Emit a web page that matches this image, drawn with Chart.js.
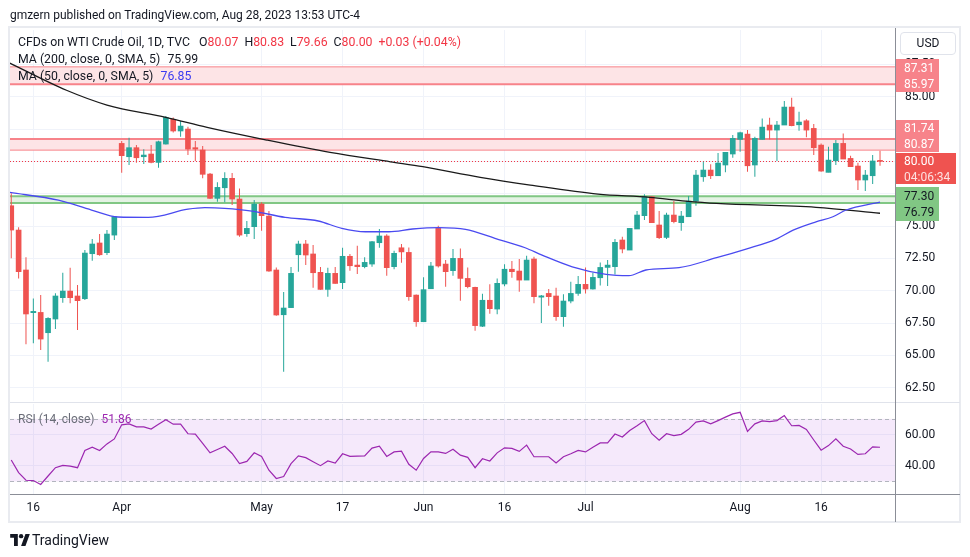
<!DOCTYPE html>
<html>
<head>
<meta charset="utf-8">
<script src="https://cdn.jsdelivr.net/npm/chart.js@4.4.0/dist/chart.umd.min.js"></script>
<style>
    body { margin: 0; background: #fff; font-family: Roboto, "Noto Sans", sans-serif; color: #131722; }
    #wrap { position: relative; width: 970px; height: 557px; overflow: hidden; background: #fff; }
    canvas { position: absolute; left: 0; top: 0; }
    .abs { position: absolute; white-space: nowrap; }
    .red { color: #f23645; }
    .frame { left: 8px; top: 26px; width: 953px; height: 497px; border: 2px solid #e9ebf0; box-sizing: border-box; }
    .legend { left: 18px; font-size: 12.3px; line-height: 16px; }
    .legend b { font-weight: normal; margin-left: 6px; }
    .pbox { left: 896px; width: 43px; font-size: 12px; line-height: 16px; padding-left: 8px; box-sizing: border-box; color: #fff; }
</style>
</head>
<body>
<div id="wrap">
    <div class="abs frame"></div>
    <canvas id="priceChart" width="970" height="557"></canvas>
    <canvas id="rsiChart" width="970" height="557"></canvas>

    <div class="abs" style="left:10px;top:8px;font-size:12px;">gmzern published on TradingView.com, Aug 28, 2023 13:53 UTC-4</div>

    <div class="abs legend" style="top:34px;"><span>CFDs on WTI Crude Oil, 1D, TVC</span><b style="margin-left:9px">O<span class="red">80.07</span></b><b>H<span class="red">80.83</span></b><b>L<span class="red">79.66</span></b><b>C<span class="red">80.00</span></b><b class="red">+0.03 (+0.04%)</b></div>
    <div class="abs legend" style="top:51px;">MA (200, close, 0, SMA, 5) <span style="margin-left:4px">75.99</span></div>
    <div class="abs legend" style="top:68px;">MA (50, close, 0, SMA, 5) <span style="margin-left:4px;color:#3b3bf0">76.85</span></div>

    <div class="abs" style="left:10px;top:402px;width:950px;height:1px;background:#e0e3eb;"></div>
    <div class="abs" style="left:10px;top:494px;width:950px;height:1px;background:#8b8e97;"></div>
    <div class="abs" style="left:895px;top:28px;width:1px;height:494px;background:#8b8e97;"></div>

    <div class="abs legend" style="top:411px;font-size:12px;color:#6a6d78;">RSI (14, close) <span style="margin-left:4px;color:#9c27b0">51.86</span></div>

    <div class="abs" style="left:900px;top:32px;width:56px;height:23px;border:1px solid #e0e3eb;border-radius:4px;box-sizing:border-box;font-size:12px;line-height:21px;text-align:center;">USD</div>

    <div class="abs pbox" style="top:59px;height:33px;background:#f7838a;padding-top:0.5px;">87.31<br>85.97</div>
    <div class="abs pbox" style="top:120px;height:32px;background:#f7838a;">81.74<br>80.87</div>
    <div class="abs pbox" style="top:153px;height:31px;width:60px;background:#ef5350;">80.00<br><span style="color:#fde0e0">04:06:34</span></div>
    <div class="abs pbox" style="top:187px;height:34px;background:#81c784;color:#131722;padding-top:1px;">77.30<br>76.79</div>

    <div class="abs" style="left:10px;top:531px;font-size:14px;line-height:18px;">
        <svg width="20" height="12" viewBox="0 0 36 22" style="vertical-align:-1px;margin-right:2px"><path fill="#131722" d="M14 22H7V7H0V0h14v22zM28 22h-8l8-22h8L28 22z"/><circle fill="#131722" cx="20" cy="4" r="4"/></svg>TradingView
    </div>
</div>

<script>
// trading-day index of the first candle (0 = Mar 16)
const firstBar = -3;

const opens = [
    76.57, 74.69, 71.60, 68.30, 68.32, 66.75, 67.81, 69.46, 69.97, 69.59,
    69.38, 72.86, 73.69, 72.94, 74.30, 81.39, 80.36, 81.06, 80.36, 80.57,
    79.92, 81.34, 83.25, 82.35, 82.50, 81.06, 80.88, 79.02, 77.14, 77.96,
    78.69, 77.09, 74.41, 74.95, 76.70, 75.77, 71.60, 68.14, 68.69, 72.78,
    73.61, 72.84, 71.42, 70.10, 71.34, 70.62, 72.66, 71.98, 71.86, 72.06,
    73.71, 74.23, 71.86, 73.32, 72.96, 69.66, 67.60, 70.15, 74.82, 72.06,
    71.55, 72.50, 70.95, 70.26, 67.25, 69.26, 68.58, 70.52, 71.66, 71.52,
    70.82, 72.45, 69.50, 69.79, 69.59, 67.99, 69.20, 69.79, 70.49, 70.13,
    71.00, 71.80, 71.86, 73.92, 73.14, 74.77, 75.80, 77.27, 75.08, 74.12,
    75.85, 75.26, 75.72, 76.93, 78.81, 79.33, 78.89, 79.72, 80.57, 81.70,
    82.11, 79.72, 81.70, 82.81, 82.42, 82.81, 84.20, 82.83, 83.14, 82.55,
    81.26, 79.15, 80.05, 81.39, 80.23, 79.64, 78.56, 78.89, 80.07
];
const highs = [
    77.53, 74.90, 72.58, 69.40, 69.66, 67.94, 69.80, 71.39, 71.78, 70.44,
    73.14, 73.99, 74.38, 74.69, 75.75, 81.57, 81.83, 81.26, 80.93, 81.26,
    81.60, 83.50, 83.40, 83.12, 82.68, 81.57, 81.19, 79.10, 78.38, 79.15,
    79.10, 77.91, 75.39, 77.01, 76.83, 76.16, 71.80, 69.90, 71.83, 73.87,
    73.92, 73.53, 71.83, 71.78, 71.83, 73.32, 72.84, 73.48, 72.58, 73.84,
    74.77, 74.36, 73.09, 73.61, 73.35, 69.71, 71.04, 72.22, 75.03, 72.37,
    73.22, 73.27, 71.80, 70.31, 69.77, 70.49, 70.95, 72.04, 72.29, 72.45,
    72.71, 72.63, 69.66, 70.13, 70.23, 69.72, 70.70, 71.13, 71.80, 71.39,
    72.19, 72.37, 74.00, 74.18, 74.82, 76.16, 77.45, 77.30, 76.16, 76.03,
    76.93, 76.16, 77.32, 79.33, 79.97, 79.77, 80.64, 80.70, 82.04, 82.29,
    82.42, 81.91, 83.32, 83.38, 83.12, 84.66, 84.92, 83.84, 83.25, 82.89,
    81.39, 81.14, 81.65, 82.16, 80.44, 79.90, 79.33, 80.49, 80.83
];
const lows = [
    72.50, 70.95, 65.85, 65.93, 65.41, 64.51, 67.04, 69.07, 69.02, 66.96,
    69.28, 72.32, 72.70, 72.76, 73.92, 79.12, 79.72, 79.90, 79.79, 79.85,
    79.51, 81.30, 82.24, 81.91, 80.49, 80.03, 78.69, 77.09, 76.88, 76.83,
    76.62, 74.18, 74.18, 73.99, 74.64, 71.47, 68.07, 63.74, 68.66, 71.47,
    71.98, 70.23, 70.08, 69.54, 70.54, 70.13, 71.55, 71.29, 71.73, 71.86,
    73.32, 71.16, 71.65, 72.16, 69.23, 67.22, 67.60, 70.15, 71.80, 70.31,
    71.16, 69.23, 70.18, 66.91, 67.20, 68.22, 68.17, 70.34, 71.00, 69.92,
    70.82, 69.03, 67.50, 68.84, 67.68, 67.22, 69.02, 69.61, 69.79, 70.10,
    70.41, 70.36, 71.26, 72.89, 73.14, 74.77, 75.46, 75.26, 74.00, 74.00,
    75.21, 74.64, 75.72, 76.57, 78.43, 78.63, 78.89, 79.15, 80.28, 80.75,
    79.20, 78.81, 81.70, 81.70, 80.03, 82.81, 82.71, 82.37, 81.86, 80.49,
    79.20, 79.15, 79.72, 80.18, 79.59, 77.78, 77.71, 78.25, 79.66
];
const closes = [
    74.69, 71.47, 68.20, 68.40, 66.26, 67.86, 69.59, 69.97, 69.46, 69.23,
    72.91, 73.61, 72.78, 74.38, 75.72, 80.44, 81.06, 80.28, 80.49, 79.92,
    81.52, 83.40, 82.35, 82.73, 80.95, 80.95, 79.00, 77.14, 77.99, 78.69,
    77.09, 74.30, 74.82, 76.70, 75.80, 71.52, 68.12, 68.66, 71.34, 73.61,
    72.76, 71.39, 70.10, 71.34, 70.56, 72.66, 71.93, 71.86, 72.19, 73.79,
    74.23, 71.78, 72.89, 73.00, 69.54, 67.60, 70.08, 71.91, 71.91, 71.47,
    72.50, 70.95, 70.31, 67.30, 69.26, 68.61, 70.57, 71.66, 71.47, 70.82,
    72.37, 69.54, 69.60, 69.54, 67.99, 69.20, 69.79, 70.49, 70.13, 71.03,
    71.80, 71.98, 73.74, 73.22, 74.82, 75.85, 77.27, 75.26, 74.10, 75.85,
    75.34, 75.77, 76.93, 78.94, 79.33, 78.89, 79.87, 80.70, 81.78, 82.22,
    79.66, 81.78, 82.65, 82.42, 82.81, 84.20, 82.76, 83.04, 82.42, 81.06,
    79.25, 80.10, 81.39, 80.18, 79.59, 78.56, 78.94, 80.03, 80.00
];

const rsi = [
    43.7, 35.7, 30.8, 30.6, 28.1, 33.5, 38.8, 40.3, 39.8, 38.8,
    49.8, 51.9, 49.8, 54.0, 57.2, 66.2, 66.8, 64.9, 64.9, 63.5,
    66.5, 69.4, 66.6, 66.6, 60.5, 60.3, 54.3, 48.3, 50.4, 52.5,
    47.9, 41.4, 42.8, 48.3, 46.0, 37.2, 31.9, 33.2, 41.4, 46.4,
    45.2, 42.6, 40.1, 43.1, 41.8, 47.7, 46.0, 46.2, 46.4, 51.3,
    52.5, 46.0, 48.9, 49.4, 41.0, 37.2, 44.7, 48.9, 48.9, 47.9,
    50.6, 46.8, 45.4, 38.8, 44.5, 43.1, 48.3, 51.5, 51.1, 49.2,
    53.2, 45.8, 45.8, 45.8, 41.8, 45.8, 47.7, 49.8, 48.9, 51.9,
    54.6, 54.6, 60.3, 58.4, 62.6, 65.6, 68.9, 60.5, 56.3, 60.5,
    59.3, 60.1, 63.3, 67.9, 68.7, 66.8, 68.9, 71.1, 73.2, 74.2,
    62.0, 66.8, 68.7, 68.3, 68.9, 72.1, 65.6, 65.8, 63.3, 56.5,
    50.0, 52.9, 57.2, 52.5, 50.8, 47.3, 47.7, 52.1, 51.86
];

// moving averages at these bar indices
const ma200At = [-3.2, 4.5, 10, 18, 23.6, 31.7, 40.3, 48.5, 52.9, 60.7, 67.5, 76.7, 83.7, 88.6, 92.8, 106.3, 115];
const ma200 = [87.6, 85.5, 84.36, 83.4, 82.63, 81.65, 80.7, 79.97, 79.59, 78.77, 78.17, 77.47, 77.22, 76.93, 76.75, 76.45, 75.99];
const ma50At = [-3.2, 3.4, 7.9, 11.5, 15.6, 21, 23.3, 26, 29.7, 34.2, 38.7, 41.9, 45.1, 48.3, 51.5, 55.1, 58.7,
    62.7, 66.8, 69.1, 73.2, 77.8, 80.9, 83.2, 87.7, 92.8, 96.8, 100.9, 103.2, 106.3, 108.6, 110.4, 115];
const ma50 = [77.6, 77.0, 76.24, 75.7, 75.67, 76.3, 76.42, 76.37, 76.16, 75.67, 75.39, 74.82, 74.56, 74.56, 74.77, 74.87, 74.74,
    74.05, 73.32, 72.75, 71.85, 71.26, 71.16, 71.6, 71.78, 72.55, 73.22, 73.99, 74.69, 75.33, 75.72, 76.24, 76.85];

const redZones = [[85.97, 87.31], [80.87, 81.74]];
const greenZones = [[76.79, 77.30]];
const lastClose = 80.00;

const priceTicks = [62.5, 65, 67.5, 70, 72.5, 75, 77.5, 80, 82.5, 85, 87.5];
const rsiTicks = [40, 60];
const rsiBand = [30, 70];
const dateTickAt = [0, 12, 31, 42, 53, 64, 75, 96, 107];
const dateTickLabels = ['16', 'Apr', 'May', '17', 'Jun', '16', 'Jul', 'Aug', '16'];

const UP = '#26a69a';
const DOWN = '#ef5350';
const GRID = '#f0f3fa';
const X_MIN = -3.17;
const X_MAX = 117.17;

Chart.defaults.font.family = 'Roboto, "Noto Sans", sans-serif';
Chart.defaults.font.size = 12;
Chart.defaults.color = '#131722';

const barX = opens.map((_, i) => i + firstBar);
const candleColors = opens.map((o, i) => closes[i] >= o ? UP : DOWN);

const zonesPlugin = {
    id: 'zones',
    beforeDatasetsDraw(chart) {
        const { ctx, chartArea: a, scales: { y } } = chart;
        ctx.save();
        function band(z, fill, line, thickTop, thickBottom) {
            const top = y.getPixelForValue(z[1]);
            const bot = y.getPixelForValue(z[0]);
            ctx.fillStyle = fill;
            ctx.fillRect(a.left, top, a.right - a.left, bot - top);
            ctx.strokeStyle = line;
            ctx.lineWidth = thickTop;
            ctx.beginPath(); ctx.moveTo(a.left, top); ctx.lineTo(a.right, top); ctx.stroke();
            ctx.lineWidth = thickBottom;
            ctx.beginPath(); ctx.moveTo(a.left, bot); ctx.lineTo(a.right, bot); ctx.stroke();
        }
        band(redZones[0], '#fde4e6', '#f7838a', 1, 2);
        band(redZones[1], '#fde4e6', '#f7838a', 2, 1);
        greenZones.forEach(z => band(z, '#e4f3e4', '#81c784', 2, 2));

        const py = Math.round(y.getPixelForValue(lastClose)) + 0.5;
        ctx.strokeStyle = '#f23645';
        ctx.lineWidth = 1;
        ctx.setLineDash([1, 2]);
        ctx.beginPath(); ctx.moveTo(a.left, py); ctx.lineTo(a.right, py); ctx.stroke();
        ctx.restore();
    }
};

const rsiBandPlugin = {
    id: 'rsiBand',
    beforeDatasetsDraw(chart) {
        const { ctx, chartArea: a, scales: { y } } = chart;
        const top = y.getPixelForValue(rsiBand[1]);
        const bot = y.getPixelForValue(rsiBand[0]);
        ctx.save();
        ctx.fillStyle = 'rgba(156, 39, 220, 0.1)';
        ctx.fillRect(a.left, top, a.right - a.left, bot - top);
        ctx.strokeStyle = '#b2b5be';
        ctx.lineWidth = 1;
        ctx.setLineDash([4, 3]);
        [top, bot].forEach(v => {
            const py = Math.round(v) + 0.5;
            ctx.beginPath(); ctx.moveTo(a.left, py); ctx.lineTo(a.right, py); ctx.stroke();
        });
        ctx.restore();
    }
};

function fixedWidth(s) { s.width = 64; }

new Chart(document.getElementById('priceChart'), {
    type: 'bar',
    data: {
        datasets: [
            {
                type: 'line',
                data: ma50At.map((x, i) => ({ x, y: ma50[i] })),
                borderColor: '#4a4af0',
                borderWidth: 1.3,
                pointRadius: 0,
                cubicInterpolationMode: 'monotone',
                order: 0
            },
            {
                type: 'line',
                data: ma200At.map((x, i) => ({ x, y: ma200[i] })),
                borderColor: '#1a1a1a',
                borderWidth: 1.3,
                pointRadius: 0,
                cubicInterpolationMode: 'monotone',
                order: 1
            },
            {
                data: barX.map((x, i) => ({ x, y: [opens[i], closes[i]] })),
                backgroundColor: candleColors,
                barThickness: 5,
                minBarLength: 1,
                grouped: false,
                order: 2
            },
            {
                data: barX.map((x, i) => ({ x, y: [lows[i], highs[i]] })),
                backgroundColor: candleColors,
                barThickness: 1,
                inflateAmount: 0,
                grouped: false,
                order: 3
            }
        ]
    },
    options: {
        responsive: false,
        animation: false,
        devicePixelRatio: 1,
        layout: { padding: { left: 10, top: 30, right: 10, bottom: 156 } },
        plugins: { legend: { display: false }, tooltip: { enabled: false } },
        scales: {
            x: {
                type: 'linear',
                offset: false,
                min: X_MIN,
                max: X_MAX,
                afterBuildTicks: s => { s.ticks = dateTickAt.map(v => ({ value: v })); },
                afterFit: s => { s.height = 0; },
                ticks: { display: false },
                grid: { color: GRID, drawTicks: false, offset: false },
                border: { display: false }
            },
            y: {
                position: 'right',
                min: 61.47,
                max: 90.16,
                afterBuildTicks: s => { s.ticks = priceTicks.map(v => ({ value: v })); },
                afterFit: fixedWidth,
                ticks: { padding: 9, callback: v => v.toFixed(2) },
                grid: { color: GRID, drawTicks: false },
                border: { display: false }
            }
        }
    },
    plugins: [zonesPlugin]
});

new Chart(document.getElementById('rsiChart'), {
    type: 'line',
    data: {
        datasets: [{
            data: barX.map((x, i) => ({ x, y: rsi[i] })),
            borderColor: '#9c27b0',
            borderWidth: 1.2,
            pointRadius: 0,
            tension: 0
        }]
    },
    options: {
        responsive: false,
        animation: false,
        devicePixelRatio: 1,
        layout: { padding: { left: 10, top: 404, right: 10, bottom: 35 } },
        plugins: { legend: { display: false }, tooltip: { enabled: false } },
        scales: {
            x: {
                type: 'linear',
                offset: false,
                min: X_MIN,
                max: X_MAX,
                afterBuildTicks: s => { s.ticks = dateTickAt.map(v => ({ value: v })); },
                afterFit: s => { s.height = 28; },
                ticks: {
                    padding: 7,
                    maxRotation: 0,
                    autoSkip: false,
                    callback: v => dateTickLabels[dateTickAt.indexOf(v)]
                },
                grid: { color: GRID, drawTicks: false },
                border: { display: false }
            },
            y: {
                position: 'right',
                min: 22,
                max: 79.5,
                afterBuildTicks: s => { s.ticks = rsiTicks.map(v => ({ value: v })); },
                afterFit: fixedWidth,
                ticks: { padding: 9, callback: v => v.toFixed(2) },
                grid: { color: GRID, drawTicks: false },
                border: { display: false }
            }
        }
    },
    plugins: [rsiBandPlugin]
});
</script>
</body>
</html>
